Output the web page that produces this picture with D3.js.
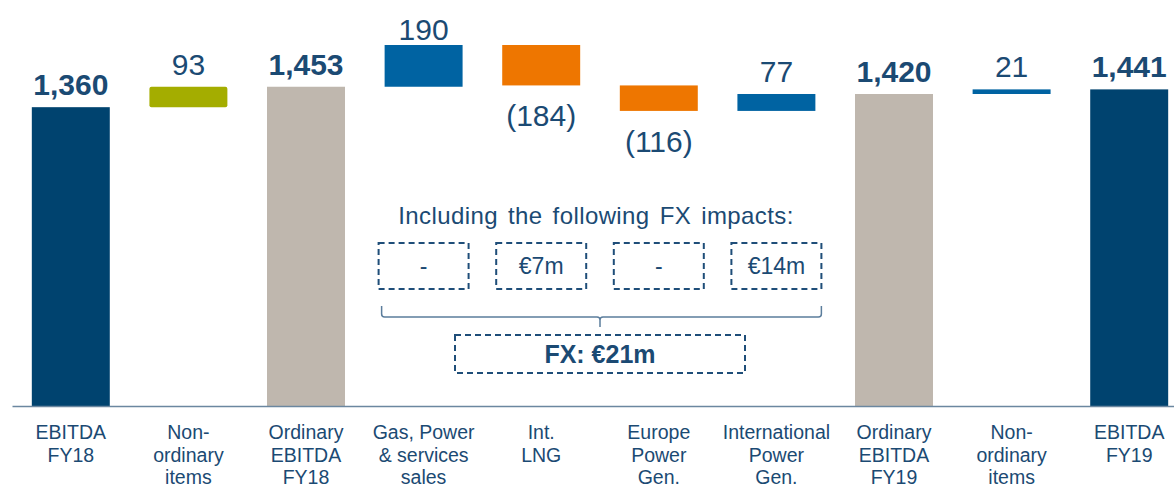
<!DOCTYPE html>
<meta charset="utf-8">
<script src="https://d3js.org/d3.v7.min.js"></script>
<style>
  body { margin: 0; background: #fff; }
  text { font-family: "Liberation Sans", Arial, sans-serif; fill: #1b4a73; }
</style>
<div id="chart"></div>
<script>

// categories (multi-line labels split by "|")
const categories = ["EBITDA|FY18", "Non-|ordinary|items", "Ordinary|EBITDA|FY18", "Gas, Power|& services|sales",
  "Int.|LNG", "Europe|Power|Gen.", "International|Power|Gen.", "Ordinary|EBITDA|FY19", "Non-|ordinary|items", "EBITDA|FY19"];
const values = [1360, 93, 1453, 190, -184, -116, 77, 1420, 21, 1441];
const kinds = ["total", "adjust", "subtotal", "up", "down", "down", "up", "subtotal", "up", "total"];

// FX impacts under the four business bars (indexes into categories)
const fxIndex = [3, 4, 5, 6];
const fxLabels = ["-", "€7m", "-", "€14m"];
const fxTitle = "Including the following FX impacts:";
const fxTotal = "FX: €21m";

const colors = {total: "#00436f", adjust: "#a4ad00", subtotal: "#bfb7ae", up: "#0063a2", down: "#ee7600"};

const width = 1174, height = 488;

const svg = d3.select("#chart").append("svg")
  .attr("width", width)
  .attr("height", height);

// build waterfall rows
let running = 0;
const rows = categories.map(function(c, i) {
  let start, end;
  if (kinds[i] === "total" || kinds[i] === "subtotal") {
    start = 0; end = values[i]; running = values[i];
  } else {
    start = running; end = running + values[i]; running = end;
  }
  return {i: i, cat: c, value: values[i], kind: kinds[i], lo: Math.min(start, end), hi: Math.max(start, end)};
});

const x = d3.scaleBand()
  .domain(d3.range(categories.length))
  .range([12, 1188])
  .paddingInner(0.337)
  .paddingOuter(0.1685);

const y = d3.scaleLinear()
  .domain([0, d3.max(rows, d => d.hi)])
  .range([406, 45]);

// bars
svg.append("g")
  .selectAll("rect")
  .data(rows)
  .join("rect")
    .attr("x", d => x(d.i))
    .attr("width", x.bandwidth())
    .attr("y", d => y(d.hi))
    .attr("height", d => Math.max(3, y(d.lo) - y(d.hi)))
    .attr("rx", d => d.kind === "adjust" ? 2 : 0)
    .attr("fill", d => colors[d.kind]);

// axis with multi-line labels
const axis = svg.append("g")
  .attr("transform", "translate(0,406)")
  .call(d3.axisBottom(x).tickSize(0).tickFormat(""));
axis.select(".domain").attr("stroke", "#6b87a0").attr("stroke-width", 1.5);
axis.selectAll(".tick text").remove();
axis.selectAll(".tick")
  .append("text")
    .attr("text-anchor", "middle")
    .style("font-size", "19.5px")
    .selectAll("tspan")
    .data(d => categories[d].split("|"))
    .join("tspan")
      .attr("x", 0)
      .attr("y", (d, i) => 33 + i * 22.5)
      .text(d => d);

// value labels
const fmt = d3.format(",");
svg.append("g")
  .selectAll("text")
  .data(rows)
  .join("text")
    .attr("x", d => x(d.i) + x.bandwidth() / 2)
    .attr("y", d => d.value < 0 ? y(d.lo) + 41 : Math.max(40, y(d.hi) - 12))
    .attr("text-anchor", "middle")
    .style("font-size", "30px")
    .style("font-weight", d => (d.kind === "total" || d.kind === "subtotal") ? "bold" : "normal")
    .text(d => d.value < 0 ? "(" + fmt(-d.value) + ")" : fmt(d.value));

// FX annotation
const fx = svg.append("g");
const cx = i => x(i) + x.bandwidth() / 2;
const fxLeft = x(fxIndex[0]) - 6;
const fxRight = x(fxIndex[fxIndex.length - 1]) + x.bandwidth() + 6;
const fxMid = (fxLeft + fxRight) / 2;

fx.append("text")
  .attr("x", fxMid - 4)
  .attr("y", 224)
  .attr("text-anchor", "middle")
  .style("font-size", "24px")
  .style("word-spacing", "3px")
  .style("letter-spacing", "0.4px")
  .text(fxTitle);

const boxes = fx.selectAll("g.fxbox")
  .data(fxIndex.map((c, i) => ({i: c, label: fxLabels[i]})))
  .join("g")
    .attr("class", "fxbox");
boxes.append("rect")
  .attr("x", d => cx(d.i) - 45)
  .attr("y", 243)
  .attr("width", 90)
  .attr("height", 46)
  .attr("fill", "none")
  .attr("stroke", "#1f4e79")
  .attr("stroke-width", 2)
  .attr("stroke-dasharray", "6,4");
boxes.append("text")
  .attr("x", d => cx(d.i))
  .attr("y", 274)
  .attr("text-anchor", "middle")
  .style("font-size", "23px")
  .text(d => d.label);

// brace
const bl = fxLeft + 3, br = fxRight, bt = 306, bb = 317;
fx.append("path")
  .attr("d", `M${bl},${bt} L${bl},${bb - 3} Q${bl},${bb} ${bl + 3},${bb} L${fxMid - 3},${bb} Q${fxMid},${bb} ${fxMid},${bb + 3} L${fxMid},${bb + 10}
    M${fxMid},${bb + 3} Q${fxMid},${bb} ${fxMid + 3},${bb} L${br - 3},${bb} Q${br},${bb} ${br},${bb - 3} L${br},${bt}`)
  .attr("fill", "none")
  .attr("stroke", "#5b7d9c")
  .attr("stroke-width", 1.5);

fx.append("rect")
  .attr("x", fxMid - 145)
  .attr("y", 335)
  .attr("width", 290)
  .attr("height", 38)
  .attr("fill", "none")
  .attr("stroke", "#1f4e79")
  .attr("stroke-width", 2)
  .attr("stroke-dasharray", "6,4");
fx.append("text")
  .attr("x", fxMid)
  .attr("y", 363)
  .attr("text-anchor", "middle")
  .style("font-size", "25px")
  .style("font-weight", "bold")
  .text(fxTotal);

</script>
